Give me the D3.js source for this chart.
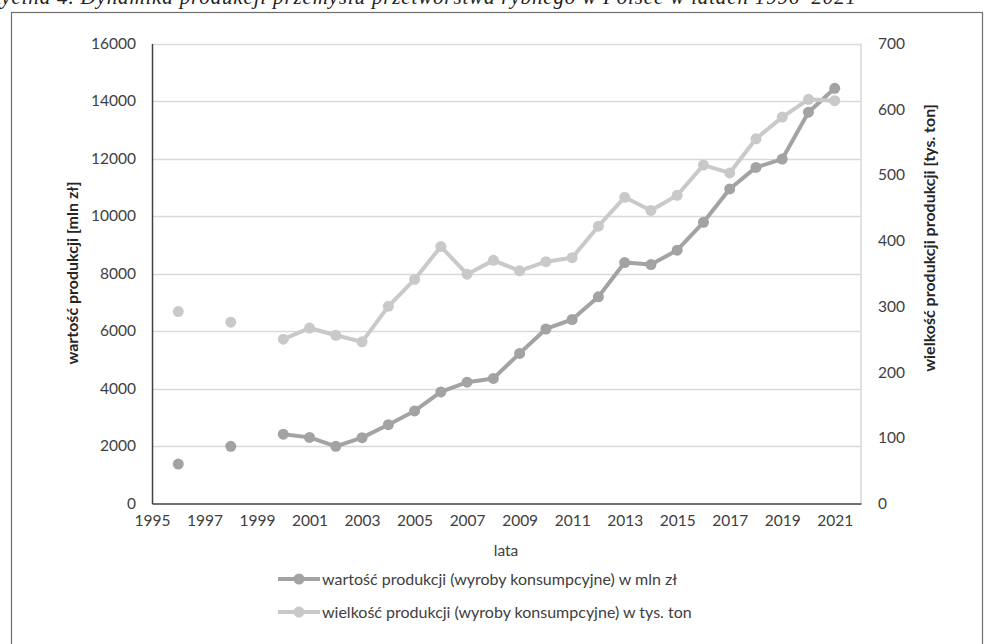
<!DOCTYPE html>
<html>
<head>
<meta charset="utf-8">
<script src="https://cdn.jsdelivr.net/npm/d3@7"></script>
<style>
  body { margin: 0; background: #fff; }
  svg { display: block; font-family: Lato, "Open Sans", sans-serif; }
</style>
</head>
<body>
<svg class="chart"></svg>
<script>
// Production of fish processing industry, 1996-2021 (1997 and 1999 missing)
let years = d3.range(1996, 2022)
let wartosc = [1370, null, 1990, null, 2410, 2300, 1990, 2290, 2740, 3220, 3880, 4220, 4350,
  5220, 6070, 6400, 7190, 8380, 8310, 8810, 9780, 10940, 11690, 11980, 13610, 14440]
let wielkosc = [292, null, 276, null, 250, 267, 256, 246, 300, 341, 391, 349, 370,
  354, 368, 374, 422, 466, 446, 469, 515, 503, 555, 588, 615, 613]

let xTicks = d3.range(1995, 2022, 2)
let leftTicks = d3.range(0, 16001, 2000)
let rightTicks = d3.range(0, 701, 100)

let seriesNames = ['wartość produkcji (wyroby konsumpcyjne) w mln zł',
  'wielkość produkcji (wyroby konsumpcyjne) w tys. ton']
let colors = ['#a3a3a6', '#c9c9c9']

let width = 985, height = 644
let plot = { left: 152, right: 861, top: 43.5, bottom: 503.5 }

let svg = d3.select('.chart').attr('width', width).attr('height', height)

// caption above the frame (cut at the top of the picture, like the scan)
svg.append('text')
  .attr('x', -12).attr('y', 4)
  .attr('font-family', '"Liberation Serif", serif')
  .attr('font-style', 'italic')
  .attr('font-size', 21)
  .attr('textLength', 868)
  .attr('fill', '#222')
  .text('Rycina 4. Dynamika produkcji przemysłu przetwórstwa rybnego w Polsce w latach 1996–2021')

// outer frame
svg.append('rect')
  .attr('x', 11.5).attr('y', 12.5)
  .attr('width', 971).attr('height', 660)
  .attr('fill', 'none').attr('stroke', '#6e6e6e').attr('stroke-width', 1.2)

let x = d3.scaleLinear().domain([1995, 2022]).range([plot.left, plot.right])
let yL = d3.scaleLinear().domain([0, 16000]).range([plot.bottom, plot.top])
let yR = d3.scaleLinear().domain([0, 700]).range([plot.bottom, plot.top])

// gridlines
svg.append('g').selectAll('line')
  .data(leftTicks.filter(d => d > 0))
  .enter().append('line')
  .attr('x1', plot.left).attr('x2', plot.right)
  .attr('y1', d => Math.round(yL(d)) + 0.5).attr('y2', d => Math.round(yL(d)) + 0.5)
  .attr('stroke', '#d9d9d9').attr('stroke-width', 1.3)

// right border of plot
svg.append('line')
  .attr('x1', plot.right).attr('x2', plot.right)
  .attr('y1', plot.top).attr('y2', plot.bottom)
  .attr('stroke', '#d9d9d9').attr('stroke-width', 1.5)

// axes
let axL = svg.append('g').attr('class', 'axis y')
  .attr('transform', 'translate(' + plot.left + ',0)')
  .call(d3.axisLeft(yL).tickValues(leftTicks).tickSize(0).tickPadding(16).tickFormat(d3.format('d')))
let axR = svg.append('g').attr('class', 'axis y2')
  .attr('transform', 'translate(' + plot.right + ',0)')
  .call(d3.axisRight(yR).tickValues(rightTicks).tickSize(0).tickPadding(17))
let axB = svg.append('g').attr('class', 'axis x')
  .attr('transform', 'translate(0,' + plot.bottom + ')')
  .call(d3.axisBottom(x).tickValues(xTicks).tickSize(0).tickPadding(11).tickFormat(d3.format('d')))

axR.select('.domain').remove()
axL.select('.domain').attr('stroke', '#404040').attr('stroke-width', 1.5)
axB.select('.domain').attr('stroke', '#404040').attr('stroke-width', 1.5)
svg.selectAll('.axis text').attr('font-size', 15.5).attr('fill', '#404040')
  .attr('font-family', 'Lato, sans-serif')

// axis titles
svg.append('text')
  .attr('transform', 'translate(78,273) rotate(-90)')
  .attr('text-anchor', 'middle')
  .attr('font-size', 16).attr('font-weight', 'bold').attr('fill', '#262626')
  .text('wartość produkcji [mln zł]')
svg.append('text')
  .attr('transform', 'translate(935,238) rotate(-90)')
  .attr('text-anchor', 'middle')
  .attr('font-size', 16).attr('font-weight', 'bold').attr('fill', '#262626')
  .text('wielkość produkcji produkcji [tys. ton]')
svg.append('text')
  .attr('x', 506).attr('y', 556)
  .attr('text-anchor', 'middle')
  .attr('font-size', 15.5).attr('fill', '#404040')
  .text('lata')

// series
let series = [
  { values: wartosc, y: yL, color: colors[0] },
  { values: wielkosc, y: yR, color: colors[1] },
]

series.forEach(s => {
  let pts = years.map((yr, i) => ({ year: yr, v: s.values[i] }))
  let line = d3.line()
    .defined(d => d.v != null)
    .x(d => x(d.year))
    .y(d => s.y(d.v))
  svg.append('path')
    .datum(pts)
    .attr('fill', 'none')
    .attr('stroke', s.color)
    .attr('stroke-width', 4)
    .attr('stroke-linejoin', 'round')
    .attr('d', line)
  svg.append('g').selectAll('circle')
    .data(pts.filter(d => d.v != null))
    .enter().append('circle')
    .attr('cx', d => x(d.year))
    .attr('cy', d => s.y(d.v))
    .attr('r', 5.5)
    .attr('fill', s.color)
})

// legend
let legend = svg.append('g').selectAll('g')
  .data(seriesNames)
  .enter().append('g')
  .attr('transform', (d, i) => 'translate(278,' + (579 + i * 33) + ')')

legend.append('line')
  .attr('x1', 0).attr('x2', 42)
  .attr('stroke', (d, i) => colors[i]).attr('stroke-width', 4)
legend.append('circle')
  .attr('cx', 21).attr('r', 5.5)
  .attr('fill', (d, i) => colors[i])
legend.append('text')
  .attr('x', 44).attr('y', 5.5)
  .attr('font-size', 16).attr('fill', '#404040')
  .text(d => d)
</script>
</body>
</html>
